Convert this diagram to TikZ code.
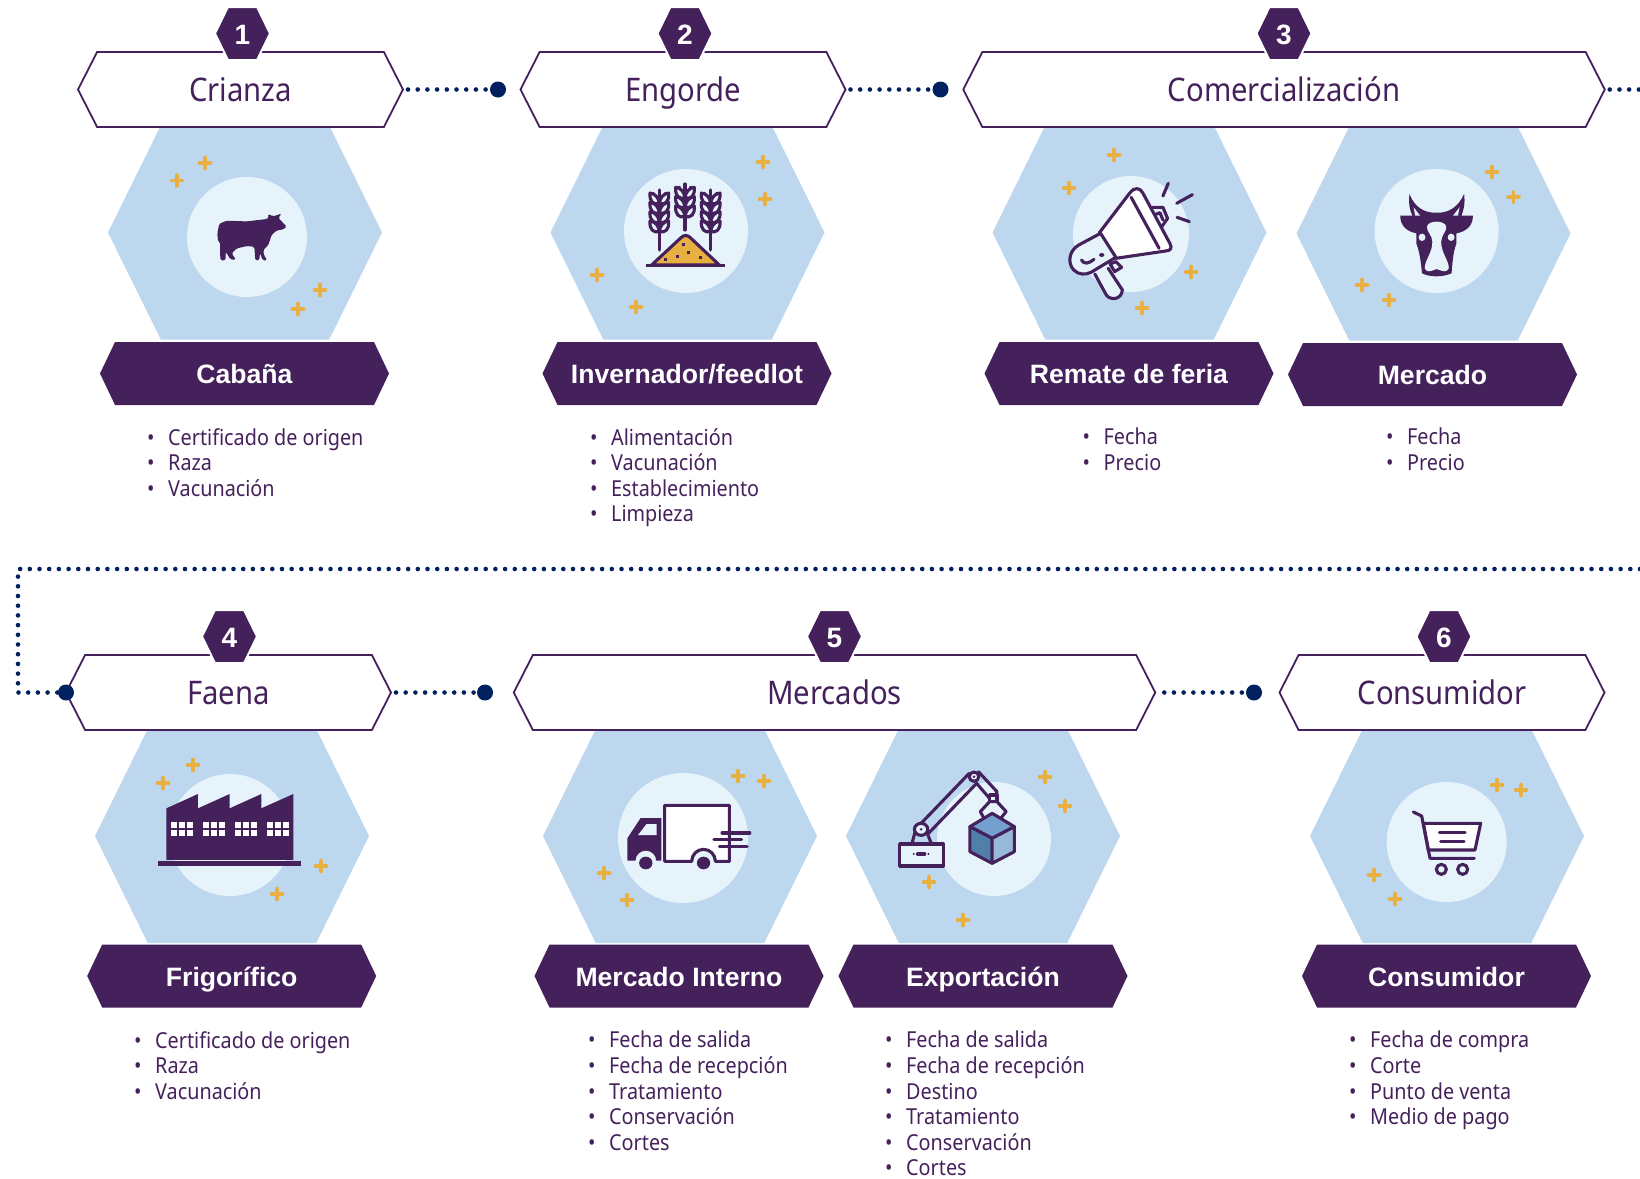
\documentclass[tikz,border=0pt]{standalone}
\usepackage{fontspec}
\setmainfont{Noto Sans}[FakeStretch=0.9]
\newfontfamily\labelfont{Liberation Sans}
\usetikzlibrary{positioning, shapes.symbols}
\definecolor{morado}{HTML}{45215C}
\definecolor{celeste}{HTML}{BDD7EE}
\definecolor{claro}{HTML}{E6F3FA}
\definecolor{oro}{HTML}{E8B040}
\definecolor{marino}{HTML}{002060}
\definecolor{cubetop}{HTML}{74A0D0}
\definecolor{cubeleft}{HTML}{5080AA}
\definecolor{cuberight}{HTML}{97B8D8}
\tikzstyle{hexbase} = [signal, signal to=west and east, inner sep=0pt, outer sep=0pt]
\tikzstyle{blue hex} = [hexbase, fill=celeste, minimum width=274pt, minimum height=214pt, signal pointer angle=127.5]
\tikzstyle{title hex} = [hexbase, draw=morado, line width=1.8pt, fill=white, text=morado, minimum width=325pt, minimum height=75pt, signal pointer angle=126, text height=30pt, text depth=6pt, font=\fontsize{32.5}{36}\selectfont]
\tikzstyle{label hex} = [hexbase, fill=morado, text=white, minimum width=289pt, minimum height=63pt, signal pointer angle=129, text height=26pt, text depth=6pt, font=\labelfont\bfseries\fontsize{26.6}{30}\selectfont]
\tikzstyle{number hex} = [hexbase, draw=white, line width=2pt, fill=morado, text=white, minimum width=55pt, minimum height=53pt, signal pointer angle=128, text height=27pt, text depth=5pt, font=\labelfont\bfseries\fontsize{28}{30}\selectfont]
\tikzstyle{glow} = [circle, fill=claro, inner sep=0pt]
\tikzstyle{bullets} = [anchor=north west, inner sep=0pt, align=left, text=morado, font=\fontsize{22}{25.6}\selectfont]
\tikzstyle{end dot} = [circle, fill=marino, minimum size=16pt, inner sep=0pt]
\tikzstyle{dotline} = [marino, line width=4.6pt, line cap=round, dash pattern=on 0pt off 9.7pt]
\tikzstyle{sparkle} = [oro, line width=3.6pt, line cap=round]
\tikzstyle{ink} = [morado, line width=3.1pt, line cap=round, line join=round]
\newcommand{\bl}{\makebox[19pt][l]{\hspace{-2pt}•}}
\newcommand{\plusmarks}[1]{\foreach \px/\py in {#1} \draw[sparkle] (\px-5.5,\py) -- (\px+5.5,\py) (\px,\py-5.5) -- (\px,\py+5.5);}
% one ear of wheat: centre x, foot, tip, first row of grains, rows
\newcommand{\wheat}[5]{
  \draw[ink] (#1,#2) -- (#1,#3) (#1-18,#4-15) -- (#1-18,#3+10) (#1+18,#4-15) -- (#1+18,#3+10);
  \foreach \n in {1,...,#5} {
    \draw[ink] (#1,#4+\n*28-12) .. controls (#1-18,#4+\n*28-8) and (#1-30,#4+\n*28-18) .. (#1-28,#4+\n*28-44) .. controls (#1-12,#4+\n*28-42) and (#1-2,#4+\n*28-30) .. (#1,#4+\n*28-12);
    \draw[ink] (#1,#4+\n*28-12) .. controls (#1+18,#4+\n*28-8) and (#1+30,#4+\n*28-18) .. (#1+28,#4+\n*28-44) .. controls (#1+12,#4+\n*28-42) and (#1+2,#4+\n*28-30) .. (#1,#4+\n*28-12);
  }
}
\begin{document}
\begin{tikzpicture}[x=1pt, y=-1pt, node distance=56pt]
\useasboundingbox (0,0) rectangle (1640,1178);

% first row
\node (hexcabana) [blue hex] at (245,232.5) {};
\node (hexinver) [blue hex] at (687.5,232.5) {};
\node (hexremate) [blue hex] at (1129.5,232.5) {};
\node (hexmercado) [blue hex] at (1433.5,233.5) {};
\node (glowcabana) [glow, minimum size=120pt] at (247,237) {};
\node (glowinver) [glow, minimum size=124pt] at (686,231) {};
\node (glowremate) [glow, minimum size=116pt] at (1131,234) {};
\node (glowmercado) [glow, minimum size=124pt] at (1436.6,231) {};
\plusmarks{205/163, 177/180.5, 320/290, 298/309}
\plusmarks{763/162, 765/199, 597/275, 636/307}
\plusmarks{1114/155, 1069/188, 1191/272, 1142/308}
\plusmarks{1492/172, 1513.5/197, 1362/285, 1389/300}

% second row
\node (hexfrigo) [blue hex] at (232,836) {};
\node (hexinterno) [blue hex] at (680,836) {};
\node (hexexport) [blue hex] at (983,836) {};
\node (hexconsumidor) [blue hex] at (1447,836) {};
\node (glowfrigo) [glow, minimum size=122pt] at (230,835) {};
\node (glowinterno) [glow, minimum size=130pt] at (683,838) {};
\node (glowexport) [glow, minimum size=114pt] at (994,839) {};
\node (glowconsumidor) [glow, minimum size=120pt] at (1446.7,842) {};
\plusmarks{193/765, 163/783, 321/866, 277/894}
\plusmarks{738/776, 764/781, 604/873, 627/900}
\plusmarks{1045/777, 1065/806, 929/882, 963/920}
\plusmarks{1497/785, 1521/790, 1374/875, 1395/899}

% cow
\begin{scope}[shift={(60,0)}, x=0.3333pt, y=-0.338pt]
  \fill[morado, rounded corners=1.5pt] (478,662) -- (500,653) -- (560,655) -- (620,648) -- (626,645) -- (624,633) -- (640,640) -- (665,632) -- (655,645) -- (665,655) -- (680,670) -- (672,678) -- (650,682) -- (635,695) -- (625,725) -- (610,740) -- (612,755) -- (622,770) -- (608,770) -- (600,748) -- (598,770) -- (586,770) -- (583,730) -- (560,728) -- (530,735) -- (515,750) -- (528,768) -- (512,768) -- (497,745) -- (497,770) -- (481,770) -- (480,715) -- (474,715) -- (472,690) -- cycle;
\end{scope}

% wheat and grain pile
\begin{scope}[shift={(530,120)}, x=0.3333pt, y=-0.3333pt]
  \wheat{388}{390}{210}{235}{4}
  \wheat{465}{330}{192}{218}{3}
  \wheat{542}{390}{210}{235}{4}
  \draw[ink, fill=oro] (365,435) -- (452,354) .. controls (462,344) and (472,344) .. (482,354) -- (568,435) -- cycle;
  \draw[ink, line cap=butt] (348,436) -- (586,436);
  \foreach \gx/\gy in {460/373, 475/399, 442/409, 511/413, 406/418} \fill[morado] (\gx-4.5,\gy-4.5) rectangle (\gx+4.5,\gy+4.5);
\end{scope}

% megaphone and cow head
\begin{scope}[shift={(980,120)}, x=0.3827pt, y=-0.3333pt]
  \draw[ink] (478,228) -- (492,190) (514,250) -- (555,224) (515,292) -- (547,305);
  \draw[ink] (450,262) -- (478,262) -- (490,295) -- (475,320);
  \draw[ink] (455,285) -- (470,278) -- (478,300);
  \draw[ink, fill=white] (312,338) -- (392,218) .. controls (402,202) and (418,202) .. (425,218) -- (496,370) .. controls (503,385) and (498,392) .. (485,393) -- (355,415) -- cycle;
  \draw[ink] (395,232) -- (468,385);
  \draw[ink, fill=claro] (315,340) -- (258,375) .. controls (232,392) and (228,430) .. (245,450) .. controls (258,465) and (275,465) .. (290,457) -- (355,412) -- cycle;
  \draw[ink, fill=claro] (300,462) -- (330,525) .. controls (340,542) and (370,540) .. (372,510) -- (335,445);
  \draw[ink, fill=claro] (340,432) -- (355,425) -- (370,442) -- (352,455) -- cycle;
  \draw[ink] (265,420) .. controls (272,435) and (285,430) .. (298,418);
  \fill[morado] (318,405) circle[x radius=7, y radius=6];
  \fill[morado] (1122,222) .. controls (1135,260) and (1160,280) .. (1193,278) .. controls (1225,280) and (1250,260) .. (1265,222) .. controls (1268,250) and (1264,270) .. (1258,287) -- (1288,287) .. controls (1288,320) and (1268,335) .. (1245,340) -- (1245,370) .. controls (1235,400) and (1235,430) .. (1232,460) .. controls (1210,472) and (1175,472) .. (1155,460) .. controls (1152,430) and (1150,400) .. (1140,370) -- (1140,340) .. controls (1118,335) and (1098,320) .. (1098,287) -- (1130,287) .. controls (1122,270) and (1120,250) .. (1122,222) -- cycle;
  \fill[claro] (1168,320) .. controls (1170,300) and (1216,300) .. (1218,320) .. controls (1220,335) and (1205,345) .. (1205,365) .. controls (1205,400) and (1225,420) .. (1225,445) .. controls (1218,458) and (1212,455) .. (1193,447) .. controls (1175,455) and (1168,458) .. (1162,445) .. controls (1162,420) and (1182,400) .. (1182,365) .. controls (1182,345) and (1166,335) .. (1168,320) -- cycle;
  \fill[claro] (1155,352) circle[x radius=9, y radius=11] (1231,352) circle[x radius=9, y radius=11];
  \fill[claro] (1133,262) -- (1150,287) -- (1137,287) -- cycle (1253,262) -- (1236,287) -- (1249,287) -- cycle;
\end{scope}

% factory
\begin{scope}[shift={(90,720)}, x=0.3333pt, y=-0.3333pt]
  \fill[morado] (229,265) -- (324,222) -- (324,265) -- (419,222) -- (419,265) -- (514,222) -- (514,265) -- (610,222) -- (610,420) -- (229,420) -- cycle;
  \fill[morado] (204,423) rectangle (633,438);
  \foreach \wx in {243,339,435,531} \foreach \wc in {0,1,2} \foreach \wy in {306,330}
    \fill[white] (\wx+\wc*24,\wy) rectangle ++(18,18);
\end{scope}

% truck and robot arm
\begin{scope}[shift={(540,730)}, x=0.37pt, y=-0.3333pt]
  \draw[ink, fill=white] (337,226) -- (512,226) -- (512,394) -- (474,394) arc[start angle=0, end angle=-180, x radius=32, y radius=36] -- (337,394) -- cycle;
  \fill[morado] (328,264) -- (272,264) -- (236,325) -- (236,392) -- (258,392) arc[start angle=180, end angle=360, x radius=28, y radius=30] -- (328,392) -- cycle;
  \fill[claro] (315,282) -- (288,282) -- (265,315) -- (315,315) -- cycle;
  \fill[morado] (286,399) circle[x radius=18, y radius=19] (442,399) circle[x radius=18, y radius=19];
  \draw[ink] (492,309) -- (567,309) (470,329) -- (545,329) (485,349) -- (560,349);
  \draw[ink, fill=claro] (972,342) rectangle (1090,408);
  \draw[ink] (1020,372) -- (1040,372);
  \fill[morado] (1010,372) circle[x radius=3, y radius=3] (1050,372) circle[x radius=3, y radius=3];
  \draw[ink] (1005,342) -- (1015,300) (1058,342) -- (1045,305);
  \draw[ink] (1030,280) -- (1160,130) (1050,310) -- (1180,160);
  \draw[ink] (1185,125) -- (1235,185) -- (1232,205) (1180,160) -- (1215,205);
  \draw[ink, fill=claro] (1030,298) circle[x radius=18, y radius=18];
  \draw[ink, fill=claro] (1173,140) circle[x radius=13, y radius=14];
  \fill[morado] (1030,298) circle[x radius=4, y radius=4] (1173,140) circle[x radius=4, y radius=4];
  \draw[ink] (1200,265) -- (1190,245) -- (1215,215) -- (1235,215) -- (1260,245) -- (1245,265);
  \draw[ink, fill=claro] (1215,195) rectangle (1235,215);
  \draw[ink, fill=cubetop] (1222,250) -- (1282,290) -- (1222,325) -- (1162,290) -- cycle;
  \draw[ink, fill=cubeleft] (1162,290) -- (1222,325) -- (1222,400) -- (1162,365) -- cycle;
  \draw[ink, fill=cuberight] (1222,325) -- (1282,290) -- (1282,365) -- (1222,400) -- cycle;
\end{scope}

% cart
\begin{scope}[shift={(1300,740)}, x=0.3333pt, y=-0.3333pt]
  \draw[ink, fill=white] (370,250) -- (542,250) -- (525,330) -- (385,330) -- cycle;
  \draw[ink] (340,216) -- (365,228) -- (390,355) -- (523,355);
  \draw[ink] (418,277) -- (495,277) (422,304) -- (492,304);
  \draw[ink] (424,388) circle[radius=15] (488,388) circle[radius=15];
\end{scope}

% titles
\node (crianza) [title hex] at (240.5,89.5) {Crianza};
\node (engorde) [title hex] at (683,89.5) {Engorde};
\node (comercial) [title hex, minimum width=641.5pt] at (1284,89.5) {Comercialización};
\node (faena) [title hex] at (228.5,692.5) {Faena};
\node (mercados) [title hex, minimum width=641.5pt] at (834.5,692.5) {Mercados};
\node (consumidor) [title hex] at (1442,692.5) {Consumidor};

\node (numuno) [number hex, above of=crianza, xshift=2pt] {1};
\node (numdos) [number hex, above of=engorde, xshift=2pt] {2};
\node (numtres) [number hex, above of=comercial] {3};
\node (numcuatro) [number hex, above of=faena, xshift=1pt] {4};
\node (numcinco) [number hex, above of=mercados] {5};
\node (numseis) [number hex, above of=consumidor, xshift=2pt] {6};

% names below the hexagons
\node (cabana) [label hex] at (244.5,373.5) {Cabaña};
\node (inver) [label hex] at (687,373.5) {Invernador/feedlot};
\node (remate) [label hex] at (1129,373.5) {Remate de feria};
\node (mercado) [label hex] at (1432.5,374.5) {Mercado};
\node (frigo) [label hex] at (231.7,976) {Frigorífico};
\node (interno) [label hex] at (679,976) {Mercado Interno};
\node (export) [label hex] at (983,976) {Exportación};
\node (finalc) [label hex] at (1446.5,976) {Consumidor};

% lists
\node (listcabana) [bullets] at (149,428) {\bl Certificado de origen\\ \bl Raza\\ \bl Vacunación};
\node (listinver) [bullets] at (592,428) {\bl Alimentación\\ \bl Vacunación\\ \bl Establecimiento\\ \bl Limpieza};
\node (listremate) [bullets] at (1084.5,428) {\bl Fecha\\ \bl Precio};
\node (listmercado) [bullets] at (1388,428) {\bl Fecha\\ \bl Precio};
\node (listfrigo) [bullets] at (136,1031) {\bl Certificado de origen\\ \bl Raza\\ \bl Vacunación};
\node (listinterno) [bullets] at (590,1031) {\bl Fecha de salida\\ \bl Fecha de recepción\\ \bl Tratamiento\\ \bl Conservación\\ \bl Cortes};
\node (listexport) [bullets] at (887,1031) {\bl Fecha de salida\\ \bl Fecha de recepción\\ \bl Destino\\ \bl Tratamiento\\ \bl Conservación\\ \bl Cortes};
\node (listfinal) [bullets] at (1351,1031) {\bl Fecha de compra\\ \bl Corte\\ \bl Punto de venta\\ \bl Medio de pago};

% connectors
\node (dotuno) [end dot] at (498,89.5) {};
\node (dotdos) [end dot] at (940.5,89.5) {};
\node (dotfaena) [end dot] at (66,692.5) {};
\node (dotcuatro) [end dot] at (485,692.5) {};
\node (dotcinco) [end dot] at (1254,692.5) {};
\coordinate (edgetop) at (1640,89.5);
\coordinate (edgeback) at (1640,569);
\coordinate (cornerone) at (18,569);
\coordinate (cornertwo) at (18,692.5);
\draw[dotline, shorten <=5pt] (crianza.east) -- (dotuno);
\draw[dotline, shorten <=5pt] (engorde.east) -- (dotdos);
\draw[dotline, shorten <=5pt] (comercial.east) -- (edgetop);
\draw[dotline] (edgeback) -- (cornerone) -- (cornertwo) -- (dotfaena);
\draw[dotline, shorten <=5pt] (faena.east) -- (dotcuatro);
\draw[dotline, shorten <=9pt] (mercados.east) -- (dotcinco);
\end{tikzpicture}
\end{document}
